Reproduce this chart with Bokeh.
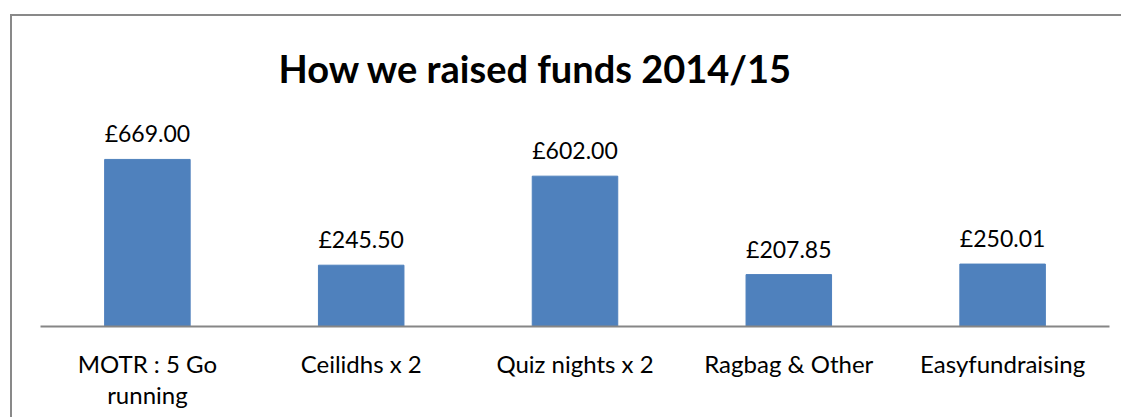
from bokeh.plotting import figure
from bokeh.models import Range1d, ColumnDataSource, LabelSet
from bokeh.core.properties import value
from bokeh.embed import file_html
from bokeh.resources import INLINE

categories = ["MOTR : 5 Go\nrunning", "Ceilidhs x 2", "Quiz nights x 2", "Ragbag & Other", "Easyfundraising"]
values = [669.00, 245.50, 602.00, 207.85, 250.01]
value_labels = ["£669.00", "£245.50", "£602.00", "£207.85", "£250.01"]

src = ColumnDataSource(dict(cat=categories, val=values, lbl=value_labels))

p = figure(x_range=categories, y_range=Range1d(0, 905),
           width=1111, height=403, output_backend="svg", toolbar_location=None,
           min_border_left=28, min_border_right=14, min_border_bottom=93, min_border_top=84)
p.margin = (16, 0, 0, 12)
p.styles = {"box-shadow": "-2px -2px 0 0 #898989"}

p.vbar(x="cat", top="val", width=0.4, source=src, fill_color="#4F81BD", line_color="#4F81BD")

labels = LabelSet(x="cat", y="val", text="lbl", source=src, text_align="center",
                  text_baseline="alphabetic", y_offset=17, text_font=value("Lato"),
                  text_font_size="23px", text_color="black")
p.add_layout(labels)

p.title.text = "How we raised funds 2014/15"
p.title.text_font = "Lato"
p.title.text_font_style = "bold"
p.title.text_font_size = "38px"
p.title.text_color = "black"
p.title.align = "left"
p.title.offset = 238
p.title.standoff = 19

p.xgrid.visible = False
p.ygrid.visible = False
p.yaxis.visible = False
p.outline_line_color = None
p.background_fill_color = "white"
p.border_fill_color = "white"

ax = p.xaxis[0]
ax.axis_line_color = "#868686"
ax.axis_line_width = 2
ax.major_tick_line_color = None
ax.minor_tick_line_color = None
ax.major_label_text_font = "Lato"
ax.major_label_text_font_size = "24px"
ax.major_label_text_color = "black"
ax.major_label_standoff = 16
ax.major_label_text_line_height = 1.1

open("out.html", "w").write(file_html(p, INLINE))
